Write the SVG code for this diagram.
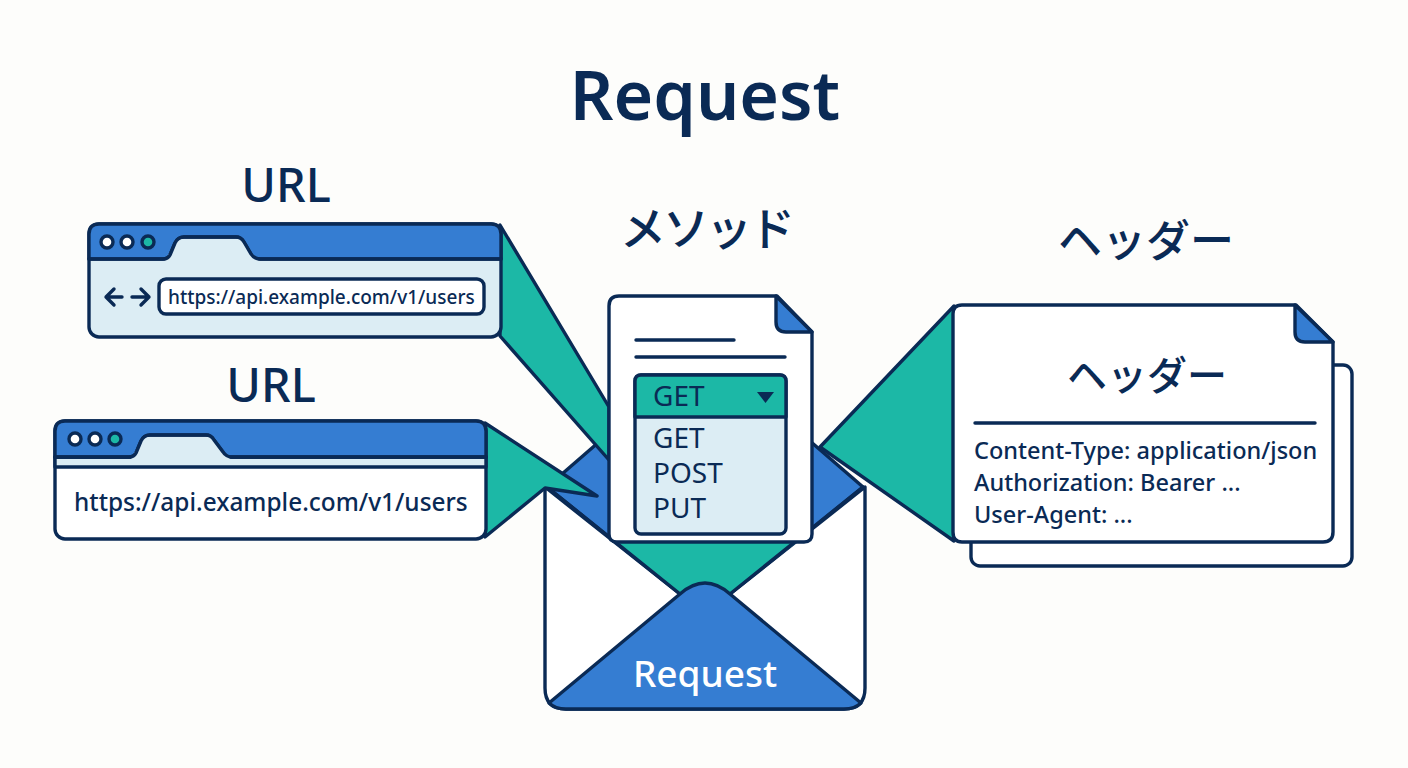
<svg xmlns="http://www.w3.org/2000/svg" width="1408" height="768" viewBox="0 0 1408 768">
<style>
.l{stroke:#0a2a55;stroke-width:3.4;stroke-linejoin:round;stroke-linecap:round}
.s{fill:none}
.w{fill:#fff}
.b{fill:#357dd2}
.t{fill:#1cb8a6}
.p{fill:#dcedf4}
text{font-family:"Noto Sans","Noto Sans CJK JP",sans-serif;fill:#0a2a55}
.j{font-family:"Noto Sans CJK JP","Noto Sans",sans-serif}
.m{text-anchor:middle}
</style>
<rect width="1408" height="768" fill="#fdfdfb"/>
<g id="title"><text x="705" y="120" class="m" font-size="68" font-weight="600">Request</text></g>
<g id="labels">
<text x="286" y="202" class="m" font-size="47" font-weight="500">URL</text>
<text x="271" y="402" class="m" font-size="47" font-weight="500">URL</text>
<text x="706" y="245" class="m j" font-size="46" font-weight="500" letter-spacing="-3">メソッド</text>
<text x="1146" y="257" class="m j" font-size="44" font-weight="500">ヘッダー</text>
</g>
<g id="envelope-back">
<path class="l b" d="M547,487 L705,350 L863,487 L732,594 L680,594 Z"/>
<path class="t" d="M612,540 H800 L732,594 H680 Z"/>
<path class="l w" d="M545,487 L680,594 H730 L865,487 V688 Q865,709 844,709 H566 Q545,709 545,688 Z"/>
<path class="t" d="M616,543 H796 L730,594 H680 Z"/>
<path class="l s" d="M547,487 L680,594 M863,487 L730,594"/>
</g>
<g id="connectors">
<path class="l t" d="M500,225 L609,407 V460 L500,336 Z"/>
<path class="l t" d="M485,423 L597,496 L545,488 L485,537 Z"/>
<path class="l t" d="M954,306 L820,447 L954,541 Z"/>
</g>
<g id="url-window-1">
<rect class="l p" x="89" y="224" width="412" height="113" rx="10"/>
<path class="l b" d="M89,259 H163 Q168,259 170,255 L175,243 Q178,237 184,237 H236 Q241,237 244,242 L251,254 Q254,259 260,259 H501 V234 Q501,224 491,224 H99 Q89,224 89,234 Z"/>
<path class="p" d="M165,261 L177,239 H240 L258,261 Z"/>
<path class="l s" d="M89,259 H163 Q168,259 170,255 L175,243 Q178,237 184,237 H236 Q241,237 244,242 L251,254 Q254,259 260,259 H501"/>
<circle class="l w" cx="107" cy="242" r="6"/><circle class="l w" cx="127" cy="242" r="6"/><circle class="l t" cx="148" cy="242" r="6"/>
<path class="l s" d="M122,297 H106 M114,289 L106,297 L114,305 M132,297 H149 M141,289 L149,297 L141,305"/>
<rect class="l w" x="159" y="279" width="325" height="35" rx="7"/>
<text x="168" y="304" font-size="19" font-weight="500">https://api.example.com/v1/users</text>
</g>
<g id="url-window-2">
<rect class="l w" x="55" y="421" width="431" height="118" rx="10"/>
<path class="l p" d="M55,467 V457 H486 V467 Z"/>
<path class="l b" d="M55,457 H129 Q134,457 136,453 L141,441 Q144,435 150,435 H206 Q211,435 214,440 L223,452 Q226,457 232,457 H486 V431 Q486,421 476,421 H65 Q55,421 55,431 Z"/>
<path class="p" d="M131,459 L143,437 H212 L230,459 Z"/>
<path class="l s" d="M55,457 H129 Q134,457 136,453 L141,441 Q144,435 150,435 H206 Q211,435 214,440 L223,452 Q226,457 232,457 H486"/>
<circle class="l w" cx="75" cy="439" r="6"/><circle class="l w" cx="95" cy="439" r="6"/><circle class="l t" cx="115" cy="439" r="6"/>
<text x="74" y="511" font-size="24.400" font-weight="500">https://api.example.com/v1/users</text>
</g>
<g id="method-document">
<path class="l w" d="M619,296 H777 L812,332 V534 Q812,542 804,542 H617 Q609,542 609,534 V306 Q609,296 619,296 Z"/>
<path class="l b" d="M776,296 V322 Q776,332 786,332 H812 Z"/>
<path class="l s" d="M636,340 H734 M636,357 H785"/>
<rect class="l p" x="635" y="375" width="151" height="159" rx="6"/>
<path class="l t" d="M635,417 V381 Q635,375 641,375 H780 Q786,375 786,381 V417 Z"/>
<path fill="#0a2a55" d="M757,392 H774 L765.500,403 Z"/>
<text x="653" y="406" font-size="28">GET</text>
<text x="653" y="448" font-size="28">GET</text>
<text x="653" y="483" font-size="28">POST</text>
<text x="653" y="518" font-size="28">PUT</text>
</g>
<g id="envelope-front">
<path class="l b" d="M549,703 L680,594 Q705,572 730,594 L861,703 Q855,709 844,709 H566 Q555,709 549,703 Z"/>
<text x="705" y="687" class="m" font-size="37" font-weight="500" style="fill:#fff">Request</text>
</g>
<g id="header-document">
<rect class="l w" x="971" y="365" width="381" height="201" rx="9"/>
<path class="l w" d="M962,305 H1296 L1333,342 V532 Q1333,542 1323,542 H962 Q953,542 953,532 V314 Q953,305 962,305 Z"/>
<path class="l b" d="M1295,305 V332 Q1295,342 1305,342 H1333 Z"/>
<text x="1147" y="390" class="m j" font-size="40" font-weight="500">ヘッダー</text>
<path class="l s" d="M975,423 H1315"/>
<text x="974" y="459" font-size="23.500" font-weight="500">Content-Type: application/json</text>
<text x="974" y="491" font-size="23.500" font-weight="500">Authorization: Bearer ...</text>
<text x="974" y="523" font-size="23.500" font-weight="500">User-Agent: ...</text>
</g>
</svg>
